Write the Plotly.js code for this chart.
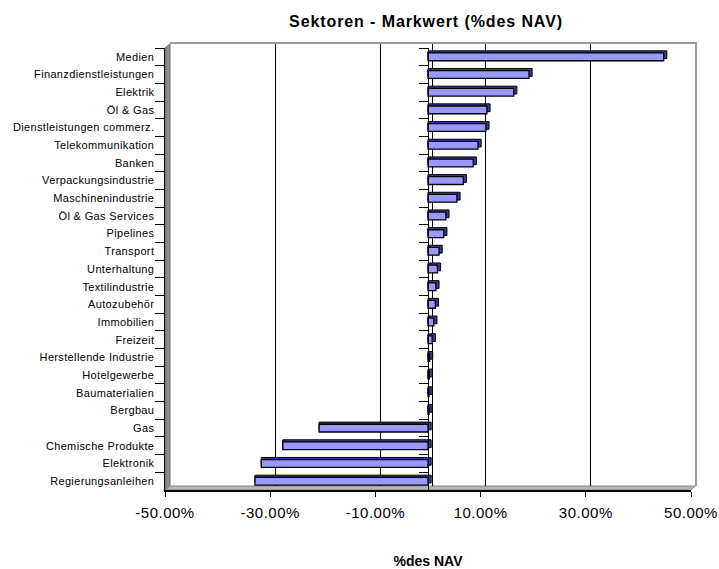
<!DOCTYPE html>
<html>
<head>
<meta charset="utf-8">
<script src="https://cdn.plot.ly/plotly-3.0.1.min.js"></script>
<style>html,body{margin:0;padding:0;background:#fff;}#chart{width:719px;height:569px;}</style>
</head>
<body>
<div id="chart"></div>
<script>
// ---- data ----
const categories = [
  'Medien','Finanzdienstleistungen','Elektrik','Öl & Gas','Dienstleistungen commerz.',
  'Telekommunikation','Banken','Verpackungsindustrie','Maschinenindustrie','Öl & Gas Services',
  'Pipelines','Transport','Unterhaltung','Textilindustrie','Autozubehör',
  'Immobilien','Freizeit','Herstellende Industrie','Hotelgewerbe','Baumaterialien',
  'Bergbau','Gas','Chemische Produkte','Elektronik','Regierungsanleihen'
];
const values = [
  44.8, 19.2, 16.3, 11.2, 11.0,
  9.5, 8.6, 6.7, 5.5, 3.4,
  3.0, 2.1, 1.8, 1.5, 1.4,
  1.1, 0.8, 0.3, 0.25, 0.2,
  0.2, -20.7, -27.6, -31.7, -32.9
];
const tickValues = [-50, -30, -10, 10, 30, 50];
const tickLabels = ['-50.00%', '-30.00%', '-10.00%', '10.00%', '30.00%', '50.00%'];
const chartTitle = 'Sektoren - Markwert (%des NAV)';
const xTitle = '%des NAV';

// ---- geometry (pixels) ----
const W = 719, H = 569;
const L = 165, R = 695, T = 44, B = 490;   // outer plot box
const depthX = 5, depthY = 4;               // 3D wall offset
const pw = R - L, ph = B - T;
const fx = x => (x - L) / pw;
const fy = y => (B - y) / ph;
const frontDom = [0, fx(R - depthX + 1)];
const frontYDom = [0, fy(T + depthY)];
const backDom = [fx(L + depthX), 1];
const backYDom = [fy(B - depthY), 1];
const zeroFrac = frontDom[0] + (0 - (-50)) / 100 * (frontDom[1] - frontDom[0]);

const FONT = 'Liberation Sans, Arial, sans-serif';
const barW = 0.44;
const barDepthX = 0.6;  // in % units
const barDepthY = 0.12; // in category units

const depthX_vals = values.map(v => v >= 0 ? v + barDepthX : v - barDepthX);
const depthBase = values.map(v => v >= 0 ? 0 : barDepthX);

const traces = [
  { // back wall helper (invisible)
    type: 'scatter', x: [0], y: [0.5], xaxis: 'x', yaxis: 'y',
    mode: 'markers', marker: {opacity: 0}, hoverinfo: 'skip', showlegend: false
  },
  { // bar depth (3D side faces)
    type: 'bar', orientation: 'h', y: categories, x: depthX_vals, base: depthBase,
    xaxis: 'x2', yaxis: 'y2', width: barW, offset: -barW / 2 - barDepthY,
    marker: {color: '#3d3d8a', line: {color: '#000000', width: 1}},
    hoverinfo: 'skip', showlegend: false
  },
  { // bar front faces
    type: 'bar', orientation: 'h', y: categories, x: values,
    xaxis: 'x2', yaxis: 'y2', width: barW, offset: -barW / 2,
    marker: {color: '#9999ff', line: {color: '#000000', width: 1.3}},
    showlegend: false
  },
  { // zero-crossing category axis helper
    type: 'scatter', y: categories, x: categories.map(() => 0),
    xaxis: 'x2', yaxis: 'y3', mode: 'markers', marker: {opacity: 0},
    hoverinfo: 'skip', showlegend: false
  }
];

const layout = {
  width: W, height: H,
  margin: {l: L, r: W - R, t: T, b: H - B, pad: 0},
  paper_bgcolor: '#ffffff', plot_bgcolor: 'rgba(0,0,0,0)',
  showlegend: false, barmode: 'overlay',
  font: {family: FONT, color: '#000000'},
  title: {
    text: '<b>' + chartTitle + '</b>', font: {family: FONT, size: 16, color: '#000'},
    xref: 'paper', x: fx(426), xanchor: 'center',
    yref: 'container', y: 1 - 21 / H, yanchor: 'middle'
  },
  // back wall
  xaxis: {
    domain: backDom, anchor: 'y', range: [-50, 50], side: 'top',
    tickvals: tickValues.slice(1, -1), showticklabels: false, ticks: '',
    showgrid: true, gridcolor: '#000000', gridwidth: 1,
    zeroline: true, zerolinecolor: '#000000', zerolinewidth: 1,
    showline: true, linecolor: '#9a9a9a', linewidth: 2, fixedrange: true
  },
  yaxis: {
    domain: backYDom, anchor: 'x', range: [0, 1], side: 'right',
    showgrid: false, zeroline: false, showticklabels: false, ticks: '',
    showline: true, linecolor: '#9a9a9a', linewidth: 2, fixedrange: true
  },
  // front
  xaxis2: {
    domain: frontDom, anchor: 'y2', range: [-50, 50],
    tickvals: tickValues, ticktext: tickLabels,
    ticks: 'outside', ticklen: 5, tickcolor: '#000', tickwidth: 1,
    ticklabelstandoff: 3,
    tickfont: {family: FONT, size: 15, color: '#000'},
    showgrid: false, zeroline: false,
    showline: true, linecolor: '#000000', linewidth: 1.5,
    title: {text: '<b>' + xTitle + '</b>', font: {family: FONT, size: 14, color: '#000'}, standoff: 36},
    fixedrange: true
  },
  yaxis2: {
    domain: frontYDom, anchor: 'x2', type: 'category',
    categoryorder: 'array', categoryarray: categories,
    range: [categories.length - 0.5, -0.5],
    tickson: 'boundaries', ticks: 'outside', ticklen: 9, tickcolor: '#000', tickwidth: 1,
    ticklabelstandoff: 7,
    tickfont: {family: FONT, size: 11, color: '#000'},
    showgrid: false, zeroline: false,
    showline: true, linecolor: '#000000', linewidth: 1.5, fixedrange: true
  },
  yaxis3: {
    overlaying: 'y2', anchor: 'free', position: zeroFrac, type: 'category',
    categoryorder: 'array', categoryarray: categories,
    range: [categories.length - 0.5, -0.5],
    tickson: 'boundaries', ticks: 'outside', ticklen: 9, tickcolor: '#000', tickwidth: 1,
    showticklabels: false, showgrid: false, zeroline: false,
    showline: true, linecolor: '#000000', linewidth: 1.2, fixedrange: true
  },
  shapes: [
    { // left wall
      type: 'path', xref: 'paper', yref: 'paper', layer: 'below',
      path: `M ${fx(L)},${fy(B)} L ${fx(L)},${fy(T + depthY)} L ${fx(L + depthX)},${fy(T)} L ${fx(L + depthX)},${fy(B - depthY)} Z`,
      fillcolor: '#8a8a8a', line: {color: '#6e6e6e', width: 1}
    },
    { // floor
      type: 'path', xref: 'paper', yref: 'paper', layer: 'below',
      path: `M ${fx(L)},${fy(B)} L ${fx(L + depthX)},${fy(B - depthY)} L ${fx(R)},${fy(B - depthY)} L ${fx(R - depthX + 1)},${fy(B)} Z`,
      fillcolor: '#b5b5b5', line: {color: '#8a8a8a', width: 1}
    }
  ]
};

Plotly.newPlot('chart', traces, layout, {staticPlot: true, displayModeBar: false}).then(gd => {
  // Mimic the slightly wider letter spacing of the original rendering
  gd.querySelectorAll('.gtitle').forEach(t => t.style.letterSpacing = '0.9px');
  gd.querySelectorAll('.y2tick text').forEach(t => t.style.letterSpacing = '0.35px');
  gd.querySelectorAll('.x2tick text').forEach(t => t.style.letterSpacing = '0.5px');
});
</script>
</body>
</html>
